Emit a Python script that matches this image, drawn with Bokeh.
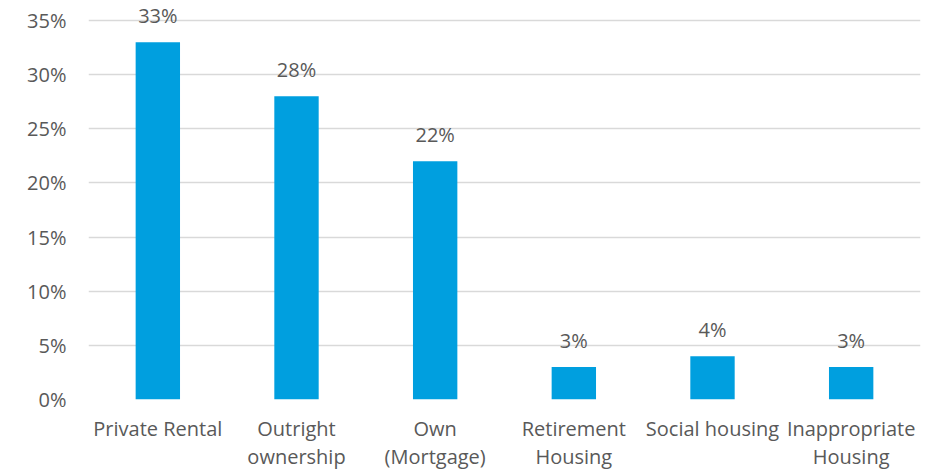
from bokeh.plotting import figure
from bokeh.models import ColumnDataSource, Range1d, FactorRange, NumeralTickFormatter, FixedTicker, LabelSet
from bokeh.core.properties import value
from bokeh.embed import file_html
from bokeh.resources import INLINE

categories = ["Private Rental", "Outright\nownership", "Own\n(Mortgage)", "Retirement\nHousing", "Social housing", "Inappropriate\nHousing"]
shares = [0.33, 0.28, 0.22, 0.03, 0.04, 0.03]
labels = ["33%", "28%", "22%", "3%", "4%", "3%"]
y_ticks = [0, 0.05, 0.10, 0.15, 0.20, 0.25, 0.30, 0.35]

FONT = "Open Sans"
TXT = "#595959"
FS = "20px"

FRAME_H = 399
AXIS_H = 379  # pixel height of 0..35%
y_end = 0.35 * FRAME_H / AXIS_H

src = ColumnDataSource(dict(cat=categories, val=shares, lab=labels))

p = figure(frame_width=832, frame_height=FRAME_H, x_range=FactorRange(*categories, range_padding=0),
           y_range=Range1d(0, y_end), output_backend="svg", toolbar_location=None,
           min_border_left=88, min_border_right=12, min_border_top=0, min_border_bottom=50)
p.outline_line_color = None
p.vbar(x="cat", top="val", width=0.32, source=src, color="#009FDF", line_color=None)
p.add_layout(LabelSet(x="cat", y="val", text="lab", source=src, text_align="center",
                      text_baseline="bottom", y_offset=13, text_font=value(FONT),
                      text_font_size=FS, text_color=TXT))

p.xgrid.grid_line_color = None
p.ygrid.grid_line_color = "#D9D9D9"
p.ygrid.grid_line_width = 1.3
p.yaxis.ticker = FixedTicker(ticks=y_ticks)
p.yaxis.formatter = NumeralTickFormatter(format="0%")
for ax in (p.xaxis, p.yaxis):
    ax.axis_line_color = None
    ax.major_tick_line_color = None
    ax.minor_tick_line_color = None
    ax.major_tick_out = 0
    ax.major_tick_in = 0
    ax.major_label_text_font = FONT
    ax.major_label_text_font_size = FS
    ax.major_label_text_color = TXT
p.xaxis.major_label_text_line_height = 1.065
p.yaxis.major_label_standoff = 22
p.xaxis.major_label_standoff = 15

open("out.html", "w").write(file_html(p, INLINE))
